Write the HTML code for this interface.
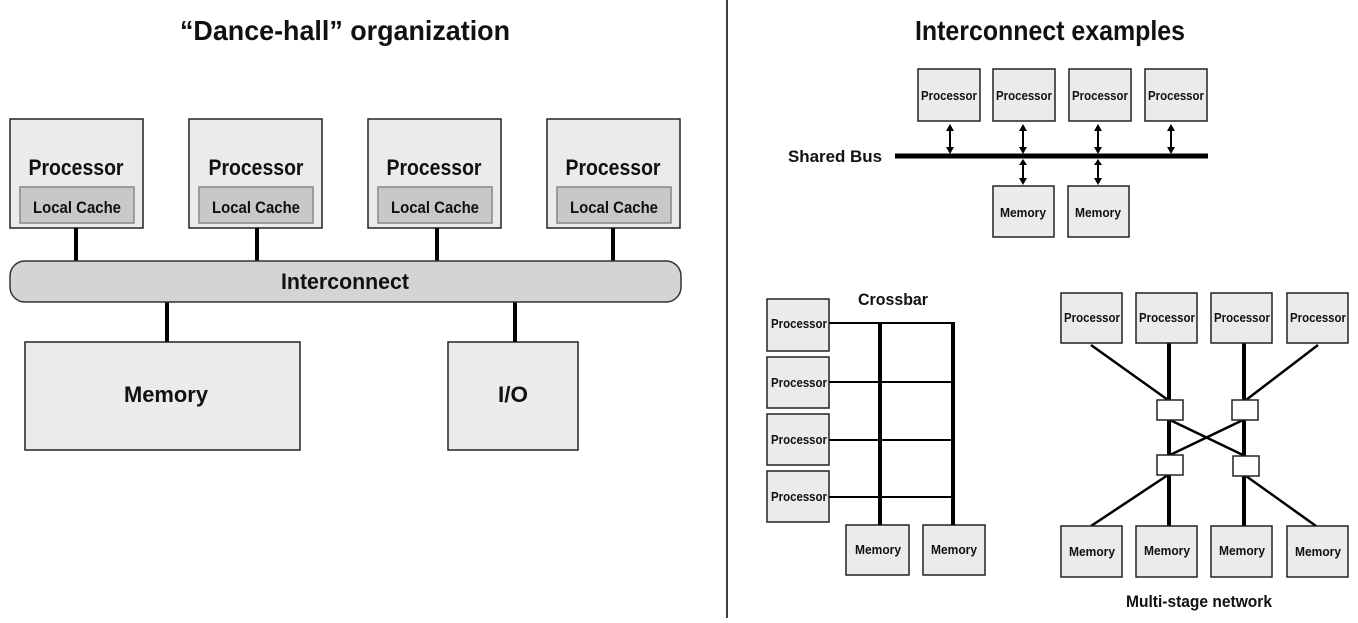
<!DOCTYPE html>
<html><head><style>
body{margin:0;background:#fff;}
svg text{font-family:"Liberation Sans Narrow","Liberation Sans",sans-serif;font-weight:bold;fill:#111;}
</style></head><body>
<svg width="1358" height="618" viewBox="0 0 1358 618" xmlns="http://www.w3.org/2000/svg">
<g stroke="#222" stroke-width="1.5" fill="#ebebeb">
<!-- left -->
<rect x="10" y="119" width="133" height="109"/>
<rect x="189" y="119" width="133" height="109"/>
<rect x="368" y="119" width="133" height="109"/>
<rect x="547" y="119" width="133" height="109"/>
</g>
<g stroke="#888" stroke-width="1.5" fill="#c8c8c8">
<rect x="20" y="187" width="114" height="36"/>
<rect x="199" y="187" width="114" height="36"/>
<rect x="378" y="187" width="114" height="36"/>
<rect x="557" y="187" width="114" height="36"/>
</g>
<g stroke="#000" stroke-width="4">
<line x1="76" y1="228" x2="76" y2="261"/><line x1="257" y1="228" x2="257" y2="261"/>
<line x1="437" y1="228" x2="437" y2="261"/><line x1="613" y1="228" x2="613" y2="261"/>
<line x1="167" y1="302" x2="167" y2="342"/><line x1="515" y1="302" x2="515" y2="342"/>
</g>
<rect x="10" y="261" width="671" height="41" rx="15" fill="#d4d4d4" stroke="#333" stroke-width="1.5"/>
<g stroke="#222" stroke-width="1.5" fill="#ebebeb">
<rect x="25" y="342" width="275" height="108"/>
<rect x="448" y="342" width="130" height="108"/>
</g>
<text x="345" y="40" font-size="28" text-anchor="middle" textLength="330" lengthAdjust="spacingAndGlyphs">“Dance-hall” organization</text>
<g font-size="22" text-anchor="middle">
<text x="76" y="175" textLength="95" lengthAdjust="spacingAndGlyphs">Processor</text>
<text x="256" y="175" textLength="95" lengthAdjust="spacingAndGlyphs">Processor</text>
<text x="434" y="175" textLength="95" lengthAdjust="spacingAndGlyphs">Processor</text>
<text x="613" y="175" textLength="95" lengthAdjust="spacingAndGlyphs">Processor</text>
<text x="345" y="289" textLength="128" lengthAdjust="spacingAndGlyphs">Interconnect</text>
<text x="166" y="402" textLength="84" lengthAdjust="spacingAndGlyphs">Memory</text>
<text x="513" y="402" textLength="30" lengthAdjust="spacingAndGlyphs">I/O</text>
</g>
<g font-size="17" text-anchor="middle">
<text x="77" y="213" textLength="88" lengthAdjust="spacingAndGlyphs">Local Cache</text>
<text x="256" y="213" textLength="88" lengthAdjust="spacingAndGlyphs">Local Cache</text>
<text x="435" y="213" textLength="88" lengthAdjust="spacingAndGlyphs">Local Cache</text>
<text x="614" y="213" textLength="88" lengthAdjust="spacingAndGlyphs">Local Cache</text>
</g>
<line x1="727" y1="0" x2="727" y2="618" stroke="#000" stroke-width="1.5"/>
<text x="1050" y="40" font-size="28" text-anchor="middle" textLength="270" lengthAdjust="spacingAndGlyphs">Interconnect examples</text>

<!-- shared bus -->
<g stroke="#222" stroke-width="1.5" fill="#ebebeb">
<rect x="918" y="69" width="62" height="52"/><rect x="993" y="69" width="62" height="52"/>
<rect x="1069" y="69" width="62" height="52"/><rect x="1145" y="69" width="62" height="52"/>
<rect x="993" y="186" width="61" height="51"/><rect x="1068" y="186" width="61" height="51"/>
</g>
<line x1="895" y1="156" x2="1208" y2="156" stroke="#000" stroke-width="5"/>
<g stroke="#000" stroke-width="2">
<line x1="950" y1="130" x2="950" y2="148"/><line x1="1023" y1="130" x2="1023" y2="148"/>
<line x1="1098" y1="130" x2="1098" y2="148"/><line x1="1171" y1="130" x2="1171" y2="148"/>
<line x1="1023" y1="164" x2="1023" y2="179"/><line x1="1098" y1="164" x2="1098" y2="179"/>
</g>
<g fill="#000">
<path d="M946 131 L950 124 L954 131Z M946 147 L950 154 L954 147Z"/>
<path d="M1019 131 L1023 124 L1027 131Z M1019 147 L1023 154 L1027 147Z"/>
<path d="M1094 131 L1098 124 L1102 131Z M1094 147 L1098 154 L1102 147Z"/>
<path d="M1167 131 L1171 124 L1175 131Z M1167 147 L1171 154 L1175 147Z"/>
<path d="M1019 165 L1023 159 L1027 165Z M1019 178 L1023 185 L1027 178Z"/>
<path d="M1094 165 L1098 159 L1102 165Z M1094 178 L1098 185 L1102 178Z"/>
</g>
<text x="882" y="162" font-size="17" text-anchor="end" textLength="94" lengthAdjust="spacingAndGlyphs">Shared Bus</text>
<g font-size="13" text-anchor="middle">
<text x="949" y="100" textLength="56" lengthAdjust="spacingAndGlyphs">Processor</text>
<text x="1024" y="100" textLength="56" lengthAdjust="spacingAndGlyphs">Processor</text>
<text x="1100" y="100" textLength="56" lengthAdjust="spacingAndGlyphs">Processor</text>
<text x="1176" y="100" textLength="56" lengthAdjust="spacingAndGlyphs">Processor</text>
<text x="1023" y="217" textLength="46" lengthAdjust="spacingAndGlyphs">Memory</text>
<text x="1098" y="217" textLength="46" lengthAdjust="spacingAndGlyphs">Memory</text>
</g>

<!-- crossbar -->
<g stroke="#222" stroke-width="1.5" fill="#ebebeb">
<rect x="767" y="299" width="62" height="52"/><rect x="767" y="357" width="62" height="51"/>
<rect x="767" y="414" width="62" height="51"/><rect x="767" y="471" width="62" height="51"/>
<rect x="846" y="525" width="63" height="50"/><rect x="923" y="525" width="62" height="50"/>
</g>
<g stroke="#000" stroke-width="2">
<line x1="829" y1="323" x2="955" y2="323"/><line x1="829" y1="382" x2="953" y2="382"/>
<line x1="829" y1="440" x2="953" y2="440"/><line x1="829" y1="497" x2="953" y2="497"/>
</g>
<g stroke="#000" stroke-width="4">
<line x1="880" y1="323" x2="880" y2="525"/><line x1="953" y1="322" x2="953" y2="525"/>
</g>
<text x="893" y="305" font-size="17" text-anchor="middle" textLength="70" lengthAdjust="spacingAndGlyphs">Crossbar</text>
<g font-size="13" text-anchor="middle">
<text x="799" y="328" textLength="56" lengthAdjust="spacingAndGlyphs">Processor</text>
<text x="799" y="387" textLength="56" lengthAdjust="spacingAndGlyphs">Processor</text>
<text x="799" y="444" textLength="56" lengthAdjust="spacingAndGlyphs">Processor</text>
<text x="799" y="501" textLength="56" lengthAdjust="spacingAndGlyphs">Processor</text>
<text x="878" y="554" textLength="46" lengthAdjust="spacingAndGlyphs">Memory</text>
<text x="954" y="554" textLength="46" lengthAdjust="spacingAndGlyphs">Memory</text>
</g>

<!-- multistage -->
<g stroke="#000" stroke-width="2.5">
<line x1="1091" y1="345" x2="1168" y2="400"/><line x1="1318" y1="345" x2="1246" y2="400"/>
<line x1="1170" y1="420" x2="1245" y2="456"/><line x1="1243" y1="420" x2="1170" y2="455"/>
<line x1="1168" y1="475" x2="1091" y2="526"/><line x1="1246" y1="476" x2="1316" y2="526"/>
</g>
<g stroke="#000" stroke-width="4">
<line x1="1169" y1="342" x2="1169" y2="526"/><line x1="1244" y1="342" x2="1244" y2="526"/>
</g>
<g stroke="#222" stroke-width="1.5" fill="#ebebeb">
<rect x="1061" y="293" width="61" height="50"/><rect x="1136" y="293" width="61" height="50"/>
<rect x="1211" y="293" width="61" height="50"/><rect x="1287" y="293" width="61" height="50"/>
<rect x="1061" y="526" width="61" height="51"/><rect x="1136" y="526" width="61" height="51"/>
<rect x="1211" y="526" width="61" height="51"/><rect x="1287" y="526" width="61" height="51"/>
</g>
<g stroke="#222" stroke-width="1.5" fill="#fff">
<rect x="1157" y="400" width="26" height="20"/><rect x="1232" y="400" width="26" height="20"/>
<rect x="1157" y="455" width="26" height="20"/><rect x="1233" y="456" width="26" height="20"/>
</g>
<g font-size="13" text-anchor="middle">
<text x="1092" y="322" textLength="56" lengthAdjust="spacingAndGlyphs">Processor</text>
<text x="1167" y="322" textLength="56" lengthAdjust="spacingAndGlyphs">Processor</text>
<text x="1242" y="322" textLength="56" lengthAdjust="spacingAndGlyphs">Processor</text>
<text x="1318" y="322" textLength="56" lengthAdjust="spacingAndGlyphs">Processor</text>
<text x="1092" y="556" textLength="46" lengthAdjust="spacingAndGlyphs">Memory</text>
<text x="1167" y="555" textLength="46" lengthAdjust="spacingAndGlyphs">Memory</text>
<text x="1242" y="555" textLength="46" lengthAdjust="spacingAndGlyphs">Memory</text>
<text x="1318" y="556" textLength="46" lengthAdjust="spacingAndGlyphs">Memory</text>
</g>
<text x="1199" y="607" font-size="17" text-anchor="middle" textLength="146" lengthAdjust="spacingAndGlyphs">Multi-stage network</text>
</svg>
</body></html>
